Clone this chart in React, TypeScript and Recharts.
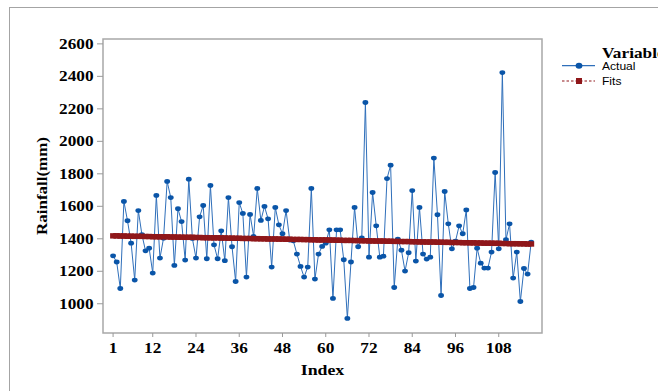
import React from "react";
import { LineChart, Line, XAxis, YAxis, ReferenceArea } from "recharts";

const indexValues: number[] = Array.from({ length: 117 }, (_, i) => i + 1);

const actualValues: number[] = [
  1295, 1257, 1094, 1630, 1511, 1373, 1146, 1574, 1425, 1326,
  1342, 1189, 1667, 1281, 1404, 1753, 1654, 1236, 1585, 1506,
  1269, 1767, 1402, 1281, 1535, 1605, 1277, 1728, 1363, 1277,
  1449, 1265, 1654, 1351, 1137, 1623, 1556, 1164, 1550, 1414,
  1710, 1513, 1599, 1523, 1226, 1593, 1486, 1431, 1574, 1392,
  1388, 1306, 1230, 1164, 1226, 1710, 1152, 1306, 1353, 1373,
  1455, 1033, 1455, 1455, 1271, 910, 1257, 1593, 1351, 1406,
  2239, 1287, 1685, 1480, 1287, 1293, 1771, 1853, 1100, 1398,
  1330, 1201, 1314, 1697, 1263, 1593, 1306, 1275, 1287, 1897,
  1548, 1051, 1691, 1492, 1338, 1385, 1480, 1431, 1578, 1094,
  1100, 1342, 1250, 1220, 1220, 1318, 1808, 1338, 2423, 1394,
  1492, 1158, 1318, 1014, 1217, 1183, 1380,
];

const fitsValues: number[] = [
  1418, 1418, 1417, 1417, 1416, 1416, 1415, 1415, 1415, 1414,
  1414, 1413, 1413, 1412, 1412, 1412, 1411, 1411, 1410, 1410,
  1409, 1409, 1409, 1408, 1408, 1407, 1407, 1406, 1406, 1406,
  1405, 1405, 1404, 1404, 1403, 1403, 1402, 1402, 1402, 1401,
  1401, 1400, 1400, 1399, 1399, 1399, 1398, 1398, 1397, 1397,
  1396, 1396, 1396, 1395, 1395, 1394, 1394, 1393, 1393, 1393,
  1392, 1392, 1391, 1391, 1390, 1390, 1390, 1389, 1389, 1388,
  1388, 1387, 1387, 1386, 1386, 1386, 1385, 1385, 1384, 1384,
  1383, 1383, 1383, 1382, 1382, 1381, 1381, 1380, 1380, 1380,
  1379, 1379, 1378, 1378, 1377, 1377, 1377, 1376, 1376, 1375,
  1375, 1374, 1374, 1373, 1373, 1373, 1372, 1372, 1371, 1371,
  1370, 1370, 1370, 1369, 1369, 1368, 1368,
];

const xTicks: number[] = [1, 12, 24, 36, 48, 60, 72, 84, 96, 108];
const yTicks: number[] = [1000, 1200, 1400, 1600, 1800, 2000, 2200, 2400, 2600];
const seriesNames: string[] = ["Actual", "Fits"];

const data = indexValues.map((idx, i) => ({
  idx,
  actual: actualValues[i],
  fits: fitsValues[i],
}));

const BLUE_LINE = "#2f6fba";
const BLUE_DOT = "#0a55a8";
const RED = "#8f171a";
const SERIF = "'Liberation Serif', 'Times New Roman', serif";
const SANS = "'Liberation Sans', Arial, sans-serif";

const XTick = (props: any) => {
  const { x, y, payload } = props;
  return (
    <text
      transform={`translate(${x},${y + 14}) scale(1.15,1)`}
      textAnchor="middle"
      fontFamily={SERIF}
      fontWeight="bold"
      fontSize={15}
      fill="#000"
    >
      {payload.value}
    </text>
  );
};

const YTick = (props: any) => {
  const { x, y, payload } = props;
  return (
    <text
      transform={`translate(${x - 1.5},${y + 5}) scale(1.15,1)`}
      textAnchor="end"
      fontFamily={SERIF}
      fontWeight="bold"
      fontSize={15}
      fill="#000"
    >
      {payload.value}
    </text>
  );
};

const ActualDot = (props: any) => {
  const { cx, cy, index } = props;
  if (cx == null || cy == null) return <g key={`a${index}`} />;
  return <ellipse key={`a${index}`} cx={cx} cy={cy} rx={2.9} ry={2.4} fill={BLUE_DOT} />;
};

const FitsDot = (props: any) => {
  const { cx, cy, index } = props;
  if (cx == null || cy == null) return <g key={`f${index}`} />;
  return <rect key={`f${index}`} x={cx - 3} y={cy - 2.7} width={6} height={5.4} fill={RED} />;
};

const LegendBox = () => (
  <svg width={103} height={50} style={{ display: "block", overflow: "visible" }}>
    <text
      transform="translate(47,17.5) scale(1.15,1)"
      fontFamily={SERIF}
      fontWeight="bold"
      fontSize={15}
      fill="#000"
    >
      Variable
    </text>
    <line x1={7} x2={40} y1={25.7} y2={25.7} stroke={BLUE_LINE} strokeWidth={1.2} />
    <ellipse cx={24} cy={25.7} rx={3.4} ry={3} fill={BLUE_DOT} />
    <text transform="translate(47,29.5) scale(1.15,1)" fontFamily={SANS} fontSize={10.5} fill="#000">
      {seriesNames[0]}
    </text>
    <line x1={7} x2={40} y1={41} y2={41} stroke={RED} strokeWidth={1.2} strokeDasharray="2.5 2" />
    <rect x={21} y={38} width={6} height={6} fill={RED} />
    <text transform="translate(47,44.8) scale(1.15,1)" fontFamily={SANS} fontSize={10.5} fill="#000">
      {seriesNames[1]}
    </text>
  </svg>
);

export default function App() {
  return (
    <div
      style={{
        position: "absolute",
        left: 0,
        top: 0,
        width: 658,
        height: 391,
        overflow: "hidden",
        background: "#fff",
      }}
    >
      <div
        style={{
          position: "absolute",
          left: 9,
          top: 7,
          width: 800,
          height: 600,
          border: "1.5px solid #a4a4a4",
        }}
      />
      <div style={{ position: "absolute", left: 0, top: 0 }}>
        <LineChart
          width={658}
          height={391}
          data={data}
          margin={{ top: 39, right: 116, left: 0, bottom: 0 }}
        >
          <XAxis
            dataKey="idx"
            type="number"
            domain={[-1.8, 120]}
            ticks={xTicks}
            interval={0}
            allowDataOverflow
            axisLine={false}
            tickLine={{ stroke: "#9a9a9a" }}
            tickSize={4}
            height={58}
            tick={<XTick />}
            label={{
              content: (p: any) => {
                const vb = p.viewBox || { x: 103, y: 333, width: 439 };
                return (
                  <text
                    transform={`translate(${vb.x + vb.width / 2},${vb.y + 42}) scale(1.15,1)`}
                    textAnchor="middle"
                    fontFamily={SERIF}
                    fontWeight="bold"
                    fontSize={15.5}
                    fill="#000"
                  >
                    Index
                  </text>
                );
              },
            }}
          />
          <YAxis
            type="number"
            domain={[820, 2630]}
            ticks={yTicks}
            interval={0}
            allowDataOverflow
            axisLine={false}
            tickLine={{ stroke: "#9a9a9a" }}
            tickSize={6}
            width={103}
            tick={<YTick />}
            label={{
              content: (p: any) => {
                const vb = p.viewBox || { x: 0, y: 39, width: 103, height: 294 };
                return (
                  <text
                    transform={`translate(47,${vb.y + vb.height / 2}) rotate(-90) scale(1.13,1)`}
                    textAnchor="middle"
                    fontFamily={SERIF}
                    fontWeight="bold"
                    fontSize={15}
                    fill="#000"
                  >
                    Rainfall(mm)
                  </text>
                );
              },
            }}
          />
          <ReferenceArea
            x1={-1.8}
            x2={120}
            y1={820}
            y2={2630}
            fill="none"
            stroke="#a8a8a8"
            strokeWidth={1.5}
            ifOverflow="visible"
          />
          <Line
            dataKey="actual"
            stroke={BLUE_LINE}
            strokeWidth={1}
            dot={ActualDot}
            activeDot={false}
            isAnimationActive={false}
          />
          <Line
            dataKey="fits"
            stroke={RED}
            strokeWidth={5}
            dot={FitsDot}
            activeDot={false}
            isAnimationActive={false}
          />
        </LineChart>
      </div>
      <div style={{ position: "absolute", left: 555, top: 40, width: 103, height: 50 }}>
        <LegendBox />
      </div>
    </div>
  );
}
